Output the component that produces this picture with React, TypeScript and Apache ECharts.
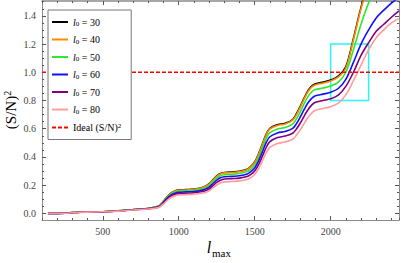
import React, { useEffect, useRef } from "react";
import * as echarts from "echarts";

const lmax = [140, 200, 250, 300, 350, 400, 500, 600, 700, 800, 850, 875, 900, 925, 950, 975, 1000, 1050, 1100, 1150, 1175, 1200, 1225, 1250, 1275, 1300, 1350, 1400, 1450, 1475, 1500, 1525, 1550, 1575, 1600, 1650, 1700, 1750, 1775, 1800, 1825, 1850, 1875, 1900, 1950, 2000, 2050, 2100, 2150, 2200, 2250, 2300, 2350, 2400, 2450];

const snL30 = [0, 0, 0.001, 0.005, 0.009, 0.01, 0.012, 0.018, 0.027, 0.035,
  0.046, 0.057, 0.087, 0.12, 0.145, 0.159, 0.165, 0.168, 0.172, 0.182, 0.192, 0.211, 0.238, 0.266, 0.283, 0.29, 0.293, 0.298, 0.313, 0.333, 0.364, 0.42, 0.49, 0.56, 0.603, 0.628, 0.638, 0.665, 0.706, 0.758, 0.816, 0.867, 0.902, 0.919, 0.93, 0.945, 0.973, 1.04, 1.24, 1.46, 1.63, 1.73, 1.79, 1.85, 1.91];
const snL40 = [0, 0, 0.001, 0.005, 0.009, 0.01, 0.012, 0.018, 0.027, 0.035,
  0.045, 0.056, 0.085, 0.118, 0.143, 0.157, 0.163, 0.166, 0.17, 0.18, 0.19, 0.208, 0.235, 0.263, 0.28, 0.287, 0.29, 0.295, 0.31, 0.33, 0.36, 0.415, 0.485, 0.555, 0.598, 0.623, 0.633, 0.66, 0.7, 0.752, 0.81, 0.86, 0.895, 0.912, 0.923, 0.938, 0.965, 1.03, 1.23, 1.45, 1.62, 1.72, 1.78, 1.84, 1.9];
const snL50 = [0, 0, 0.001, 0.005, 0.009, 0.01, 0.012, 0.018, 0.027, 0.035,
  0.044, 0.054, 0.082, 0.114, 0.138, 0.151, 0.157, 0.16, 0.163, 0.172, 0.181, 0.198, 0.224, 0.251, 0.267, 0.274, 0.277, 0.282, 0.296, 0.314, 0.342, 0.395, 0.462, 0.53, 0.572, 0.598, 0.608, 0.632, 0.67, 0.72, 0.776, 0.826, 0.86, 0.877, 0.888, 0.902, 0.93, 1.0, 1.16, 1.34, 1.49, 1.59, 1.66, 1.71, 1.76];
const snL60 = [0, 0, 0.001, 0.005, 0.008, 0.01, 0.012, 0.017, 0.026, 0.034,
  0.042, 0.051, 0.078, 0.108, 0.13, 0.143, 0.149, 0.152, 0.155, 0.163, 0.171, 0.186, 0.21, 0.236, 0.252, 0.259, 0.262, 0.266, 0.279, 0.296, 0.322, 0.37, 0.434, 0.5, 0.543, 0.57, 0.58, 0.602, 0.636, 0.683, 0.735, 0.782, 0.815, 0.833, 0.845, 0.858, 0.885, 0.95, 1.07, 1.2, 1.3, 1.385, 1.44, 1.49, 1.53];
const snL70 = [0, 0, 0.001, 0.004, 0.008, 0.009, 0.011, 0.017, 0.025, 0.033,
  0.04, 0.048, 0.073, 0.1, 0.121, 0.134, 0.14, 0.143, 0.146, 0.153, 0.16, 0.173, 0.195, 0.219, 0.235, 0.243, 0.246, 0.25, 0.261, 0.276, 0.3, 0.344, 0.403, 0.465, 0.508, 0.537, 0.548, 0.568, 0.598, 0.64, 0.688, 0.733, 0.767, 0.787, 0.8, 0.812, 0.838, 0.9, 1.0, 1.12, 1.21, 1.29, 1.34, 1.39, 1.435];
const snL80 = [0, 0, 0.001, 0.004, 0.007, 0.009, 0.011, 0.016, 0.024, 0.031,
  0.037, 0.045, 0.067, 0.093, 0.112, 0.124, 0.13, 0.133, 0.136, 0.142, 0.148, 0.16, 0.18, 0.201, 0.216, 0.223, 0.226, 0.23, 0.24, 0.253, 0.275, 0.315, 0.37, 0.428, 0.467, 0.495, 0.506, 0.525, 0.553, 0.592, 0.636, 0.677, 0.71, 0.73, 0.743, 0.756, 0.782, 0.84, 0.94, 1.05, 1.16, 1.245, 1.3, 1.35, 1.38];

const l0Values = [30, 40, 50, 60, 70, 80];
const seriesValues = [snL30, snL40, snL50, snL60, snL70, snL80];
const seriesColors = ["#000000", "#ff8a00", "#2ee82e", "#1010ff", "#800080", "#ff9c9c"];

const idealLevel = 1.0;
const xRange = [100, 2450];
const yRange = [-0.047, 1.505];
const zoomBoxX = [2000, 2250];
const zoomBoxY = [0.8, 1.2];

const xMajorTicks = [500, 1000, 1500, 2000];
const yMajorTicks = [0, 0.2, 0.4, 0.6, 0.8, 1.0, 1.2, 1.4];
const yMinorTicks = [0.05, 0.1, 0.15, 0.25, 0.3, 0.35, 0.45, 0.5, 0.55, 0.65, 0.7, 0.75, 0.85, 0.9, 0.95, 1.05, 1.1, 1.15, 1.25, 1.3, 1.35, 1.45, 1.5];

const FONT = '"Liberation Serif", "Times New Roman", serif';
const AXIS_COLOR = "#8a8a8a";
const TICK_COLOR = "#555";

export default function App() {
  const ref = useRef<HTMLDivElement>(null);

  useEffect(() => {
    if (!ref.current) return;
    const chart = echarts.init(ref.current, null, { renderer: "svg" });

    const lineSeries = seriesValues.map((vals, k) => ({
      name: `l0 = ${l0Values[k]}`,
      type: "line",
      xAxisIndex: 0,
      yAxisIndex: 0,
      data: lmax.map((x, i) => [x, vals[i]]),
      showSymbol: false,
      symbol: "none",
      smooth: 0.35,
      clip: true,
      lineStyle: { color: seriesColors[k], width: 1.6 },
      itemStyle: { color: seriesColors[k] },
      z: 2 + k * 0.01,
    }));

    const idealName = "Ideal (S/N)2";

    const option: any = {
      animation: false,
      grid: { left: 42, top: 1, width: 357, height: 219, containLabel: false },
      xAxis: [
        {
          type: "value", position: "bottom", min: xRange[0], max: xRange[1], interval: 100,
          axisLine: { show: true, onZero: false, lineStyle: { color: AXIS_COLOR, width: 1 } },
          axisTick: { show: true, inside: true, length: 2, lineStyle: { color: TICK_COLOR } },
          axisLabel: { show: true, customValues: xMajorTicks, formatter: (v: number) => String(v), margin: 6, fontFamily: FONT, fontSize: 10, color: "#444" },
          splitLine: { show: false },
        },
        {
          type: "value", position: "bottom", min: xRange[0], max: xRange[1],
          axisLine: { show: false, onZero: false },
          axisTick: { show: true, inside: true, length: 4, customValues: xMajorTicks, lineStyle: { color: TICK_COLOR } },
          axisLabel: { show: false },
          splitLine: { show: false },
        },
        {
          type: "value", position: "top", min: xRange[0], max: xRange[1], interval: 100,
          axisLine: { show: true, onZero: false, lineStyle: { color: AXIS_COLOR, width: 1.5 } },
          axisTick: { show: true, inside: true, length: 2, lineStyle: { color: TICK_COLOR } },
          axisLabel: { show: false },
          splitLine: { show: false },
        },
        {
          type: "value", position: "top", min: xRange[0], max: xRange[1],
          axisLine: { show: false, onZero: false },
          axisTick: { show: true, inside: true, length: 4, customValues: xMajorTicks, lineStyle: { color: TICK_COLOR } },
          axisLabel: { show: false },
          splitLine: { show: false },
        },
      ],
      yAxis: [
        {
          type: "value", position: "left", min: yRange[0], max: yRange[1],
          axisLine: { show: true, onZero: false, lineStyle: { color: AXIS_COLOR, width: 1 } },
          axisTick: { show: true, inside: true, length: 4, customValues: yMajorTicks, lineStyle: { color: TICK_COLOR } },
          axisLabel: { show: true, customValues: yMajorTicks, formatter: (v: number) => v.toFixed(1), margin: 6, fontFamily: FONT, fontSize: 10, color: "#444" },
          splitLine: { show: false },
        },
        {
          type: "value", position: "left", min: yRange[0], max: yRange[1],
          axisLine: { show: false, onZero: false },
          axisTick: { show: true, inside: true, length: 2, customValues: yMinorTicks, lineStyle: { color: TICK_COLOR } },
          axisLabel: { show: false },
          splitLine: { show: false },
        },
        {
          type: "value", position: "right", min: yRange[0], max: yRange[1],
          axisLine: { show: true, onZero: false, lineStyle: { color: AXIS_COLOR, width: 1 } },
          axisTick: { show: true, inside: true, length: 4, customValues: yMajorTicks, lineStyle: { color: TICK_COLOR } },
          axisLabel: { show: false },
          splitLine: { show: false },
        },
        {
          type: "value", position: "right", min: yRange[0], max: yRange[1],
          axisLine: { show: false, onZero: false },
          axisTick: { show: true, inside: true, length: 2, customValues: yMinorTicks, lineStyle: { color: TICK_COLOR } },
          axisLabel: { show: false },
          splitLine: { show: false },
        },
      ],
      legend: {
        orient: "vertical",
        left: 48,
        top: 10,
        padding: [7, 10, 7, 3],
        itemGap: 7,
        itemWidth: 16,
        itemHeight: 10,
        backgroundColor: "#ffffff",
        borderColor: "#777",
        borderWidth: 1,
        borderRadius: 0,
        itemStyle: { opacity: 0, borderWidth: 0 },
        data: [...l0Values.map((v) => `l0 = ${v}`), idealName],
        formatter: (name: string) => {
          if (name === idealName) return "{t|Ideal (S/N)}{sup|2}";
          const v = name.split("=")[1].trim();
          return `{it|l}{sub|0}{t| = ${v}}`;
        },
        textStyle: {
          fontFamily: FONT,
          fontSize: 10,
          color: "#000",
          rich: {
            t: { fontFamily: FONT, fontSize: 10, color: "#000", lineHeight: 11 },
            it: { fontFamily: FONT, fontSize: 10, fontStyle: "italic", color: "#000", lineHeight: 11 },
            sub: { fontFamily: FONT, fontSize: 7, color: "#000", verticalAlign: "bottom", lineHeight: 7 },
            sup: { fontFamily: FONT, fontSize: 7, color: "#000", verticalAlign: "top", lineHeight: 7 },
          },
        },
      },
      graphic: [
        {
          type: "text", x: 11, y: 110, rotation: Math.PI / 2,
          style: {
            text: "{a|(S/N)}{b|2}",
            align: "center", verticalAlign: "middle",
            rich: {
              a: { fontFamily: FONT, fontSize: 15, fill: "#000", lineHeight: 17 },
              b: { fontFamily: FONT, fontSize: 10, fill: "#000", verticalAlign: "top", lineHeight: 10 },
            },
          },
        },
        { type: "text", x: 209, y: 247, style: { text: "l", font: `italic 16px ${FONT}`, fill: "#000", align: "center", verticalAlign: "middle" } },
        { type: "text", x: 212, y: 253, style: { text: "max", font: `11px ${FONT}`, fill: "#000", align: "left", verticalAlign: "middle" } },
      ],
      series: [
        ...lineSeries,
        {
          name: idealName,
          type: "line",
          xAxisIndex: 0,
          yAxisIndex: 0,
          data: [[xRange[0], idealLevel], [xRange[1], idealLevel]],
          showSymbol: false,
          symbol: "none",
          lineStyle: { color: "#ff0000", width: 1.5, type: [4, 2] },
          itemStyle: { color: "#ff0000" },
          z: 3,
          markArea: {
            silent: true,
            itemStyle: { color: "rgba(0,0,0,0)", borderColor: "#2af5f5", borderWidth: 1.5 },
            data: [[{ coord: [zoomBoxX[0], zoomBoxY[1]] }, { coord: [zoomBoxX[1], zoomBoxY[0]] }]],
          },
        },
      ],
    };

    chart.setOption(option);
    return () => chart.dispose();
  }, []);

  return <div ref={ref} style={{ width: 401, height: 263, position: "absolute", left: 0, top: 0 }} />;
}
